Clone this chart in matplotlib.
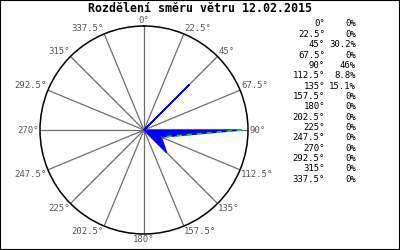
import matplotlib
matplotlib.use("Agg")
import matplotlib.pyplot as plt
import numpy as np

title = "Rozdělení směru větru 12.02.2015"
angles = [0, 22.5, 45, 67.5, 90, 112.5, 135, 157.5, 180, 202.5, 225, 247.5, 270, 292.5, 315, 337.5]
percent = [0, 0, 30.2, 0, 46, 8.8, 15.1, 0, 0, 0, 0, 0, 0, 0, 0, 0]
r_max = 49

mono = "DejaVu Sans Mono"

fig = plt.figure(figsize=(4, 2.5), dpi=100)
ax = fig.add_axes([0.1, 0.064, 0.52, 0.832], projection="polar")
ax.set_theta_zero_location("N")
ax.set_theta_direction(-1)
ax.set_ylim(0, r_max)
ax.grid(False)
ax.set_xticks([])
ax.set_yticks([])
ax.spines["polar"].set_color("black")
ax.spines["polar"].set_linewidth(1.1)

theta = np.radians(angles)

# spokes + labels
for a, th in zip(angles, theta):
    ax.plot([th, th], [0, r_max], color="#6e6e6e", lw=0.9, zorder=1)
    s, c = np.sin(th), np.cos(th)
    ha = "left" if s > 0.01 else ("right" if s < -0.01 else "center")
    va = "bottom" if c > 0.01 else ("top" if c < -0.01 else "center")
    ax.text(th, r_max * 1.01, f"{a:g}°", ha=ha, va=va, fontsize=6.5,
            family=mono, color="#555555")

# wind rose polygon
th_closed = np.append(theta, theta[0])
p_closed = np.append(percent, percent[0])
ax.fill(th_closed, p_closed, color="#0000ff", lw=1.0, zorder=3)

# green dashed edge between 90 and 112.5
i90, i112 = angles.index(90), angles.index(112.5)
ax.plot([theta[i90], theta[i112]], [percent[i90], percent[i112]],
        color="#00ee00", lw=1.2, dashes=(3, 3), zorder=4)

fig.text(0.5, 1 - 9 / 250, title, ha="center", va="center", fontsize=8.4,
         family=mono, fontweight="bold")

# table on the right
for i, (a, p) in enumerate(zip(angles, percent)):
    y = 1 - (24 + i * 10.35) / 250
    fig.text(325 / 400, y, f"{a:g}°", ha="right", va="center", fontsize=6.5, family=mono)
    fig.text(356 / 400, y, f"{p:g}%", ha="right", va="center", fontsize=6.5, family=mono)

fig.add_artist(plt.Rectangle((0, 0), 1, 1, transform=fig.transFigure,
                             fill=False, ec="black", lw=1.5))

fig.savefig("out.png", dpi=100)
